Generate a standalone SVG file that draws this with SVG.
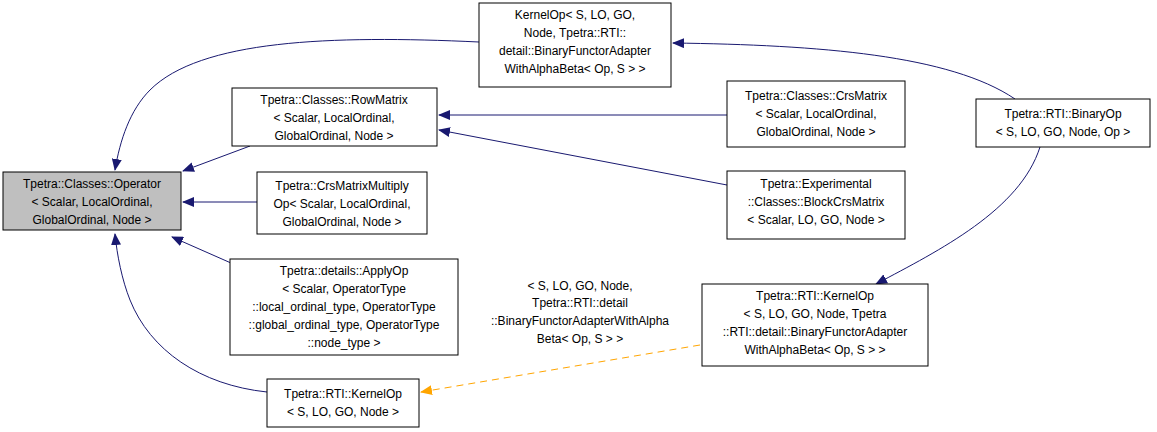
<svg xmlns="http://www.w3.org/2000/svg" width="1157" height="432" viewBox="0 0 1157 432">
<style>
.n rect{fill:#fff;stroke:#000;stroke-width:1}
.n.g rect{fill:#bfbfbf}
text{font-family:"Liberation Sans",Arial,sans-serif;font-size:12px;text-anchor:middle;fill:#000}
.e{fill:none;stroke:#191970;stroke-width:1}
.d{fill:none;stroke:#ffa500;stroke-width:1;stroke-dasharray:7,5}
</style>
<defs>
<marker id="a" viewBox="0 0 12 10" refX="11" refY="5" markerWidth="12" markerHeight="10" markerUnits="userSpaceOnUse" orient="auto"><path d="M0,0L12,5L0,10Z" fill="#191970"/></marker>
<marker id="o" viewBox="0 0 12 10" refX="11" refY="5" markerWidth="12" markerHeight="10" markerUnits="userSpaceOnUse" orient="auto"><path d="M0,0L12,5L0,10Z" fill="#ffa500"/></marker>
</defs>
<rect width="1157" height="432" fill="#fff"/>
<g id="edges">
<path class="e" marker-end="url(#a)" d="M479,42C330,35 200,40 150,90C130,110 120,140 115,170"/>
<path class="e" marker-end="url(#a)" d="M250,146L183,171"/>
<path class="e" marker-end="url(#a)" d="M257,202L183,202"/>
<path class="e" marker-end="url(#a)" d="M231,263L172,237"/>
<path class="e" marker-end="url(#a)" d="M267,392C200,385 150,350 130,300C122,280 117,255 115,234"/>
<path class="e" marker-end="url(#a)" d="M727,115L439,115"/>
<path class="e" marker-end="url(#a)" d="M727,185L439,130"/>
<path class="e" marker-end="url(#a)" d="M1015,99C950,55 820,45 673,43"/>
<path class="e" marker-end="url(#a)" d="M1040,147C1020,210 940,250 876,284"/>
<path class="d" marker-end="url(#o)" d="M700,345L421,392"/>
<text x="580" y="290">&lt; S, LO, GO, Node,</text>
<text x="580" y="307">Tpetra::RTI::detail</text>
<text x="580" y="325">::BinaryFunctorAdapterWithAlpha</text>
<text x="580" y="343">Beta&lt; Op, S &gt; &gt;</text>
</g>
<g id="operator" class="n g"><rect x="3" y="172" width="178" height="58"/>
<text x="92" y="188">Tpetra::Classes::Operator</text><text x="92" y="206">&lt; Scalar, LocalOrdinal,</text><text x="92" y="224">GlobalOrdinal, Node &gt;</text></g>
<g id="kernelop_top" class="n"><rect x="479" y="3" width="192" height="84"/>
<text x="575" y="19">KernelOp&lt; S, LO, GO,</text><text x="575" y="37">Node, Tpetra::RTI::</text><text x="575" y="55">detail::BinaryFunctorAdapter</text><text x="575" y="73">WithAlphaBeta&lt; Op, S &gt; &gt;</text></g>
<g id="rowmatrix" class="n"><rect x="232" y="88" width="205" height="58"/>
<text x="334" y="104">Tpetra::Classes::RowMatrix</text><text x="334" y="122">&lt; Scalar, LocalOrdinal,</text><text x="334" y="140">GlobalOrdinal, Node &gt;</text></g>
<g id="crsmult" class="n"><rect x="257" y="172" width="170" height="62"/>
<text x="342" y="190">Tpetra::CrsMatrixMultiply</text><text x="342" y="208">Op&lt; Scalar, LocalOrdinal,</text><text x="342" y="226">GlobalOrdinal, Node &gt;</text></g>
<g id="applyop" class="n"><rect x="230" y="259" width="228" height="96"/>
<text x="344" y="275">Tpetra::details::ApplyOp</text><text x="344" y="293">&lt; Scalar, OperatorType</text><text x="344" y="311">::local_ordinal_type, OperatorType</text><text x="344" y="329">::global_ordinal_type, OperatorType</text><text x="344" y="347">::node_type &gt;</text></g>
<g id="rtikernelop" class="n"><rect x="267" y="379" width="152" height="48"/>
<text x="343" y="398">Tpetra::RTI::KernelOp</text><text x="343" y="416">&lt; S, LO, GO, Node &gt;</text></g>
<g id="crsmatrix" class="n"><rect x="727" y="81" width="178" height="66"/>
<text x="816" y="100">Tpetra::Classes::CrsMatrix</text><text x="816" y="118">&lt; Scalar, LocalOrdinal,</text><text x="816" y="136">GlobalOrdinal, Node &gt;</text></g>
<g id="blockcrs" class="n"><rect x="727" y="171" width="178" height="68"/>
<text x="816" y="188">Tpetra::Experimental</text><text x="816" y="206">::Classes::BlockCrsMatrix</text><text x="816" y="224">&lt; Scalar, LO, GO, Node &gt;</text></g>
<g id="binaryop" class="n"><rect x="976" y="99" width="174" height="48"/>
<text x="1063" y="118">Tpetra::RTI::BinaryOp</text><text x="1063" y="136">&lt; S, LO, GO, Node, Op &gt;</text></g>
<g id="rtikernelop_big" class="n"><rect x="702" y="284" width="226" height="82"/>
<text x="815" y="300">Tpetra::RTI::KernelOp</text><text x="815" y="318">&lt; S, LO, GO, Node, Tpetra</text><text x="815" y="336">::RTI::detail::BinaryFunctorAdapter</text><text x="815" y="354">WithAlphaBeta&lt; Op, S &gt; &gt;</text></g>
</svg>
